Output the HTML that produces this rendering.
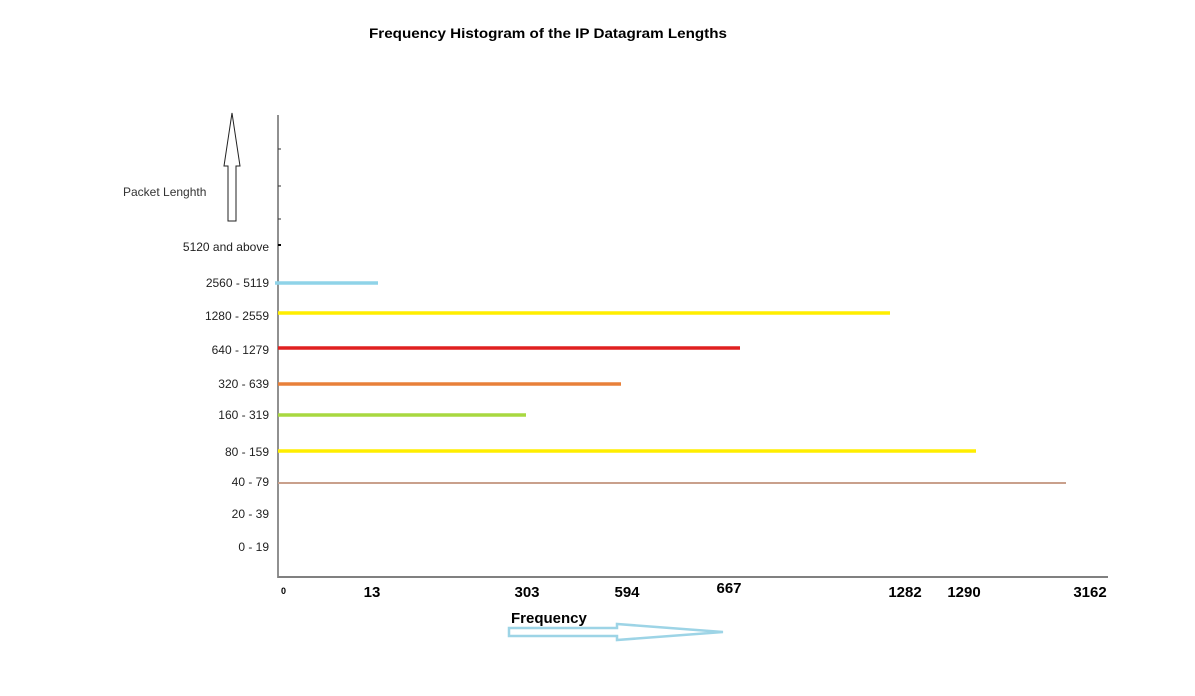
<!DOCTYPE html>
<html><head><meta charset="utf-8"><style>
html,body{margin:0;padding:0;background:#fff;}
svg{display:block;font-family:"Liberation Sans",Arial,sans-serif;}
</style></head><body>
<svg id="chart" width="1195" height="696" viewBox="0 0 1195 696">
<text x="369" y="38" font-size="13.5" font-weight="bold" textLength="358" lengthAdjust="spacingAndGlyphs">Frequency Histogram  of the IP Datagram Lengths</text>
<g id="yarrow">
<polygon points="232,113 240,166 236,166 236,221 228,221 228,166 224,166" fill="#fff" stroke="#222" stroke-width="1"/>
</g>
<text x="123" y="196" font-size="12" fill="#333">Packet Lenghth</text>
<line x1="278" y1="115" x2="278" y2="578" stroke="#555" stroke-width="1.3"/>
<line x1="278" y1="577" x2="1108" y2="577" stroke="#808080" stroke-width="2"/>
<line x1="278" y1="149" x2="281" y2="149" stroke="#333"/><line x1="278" y1="186" x2="281" y2="186" stroke="#333"/><line x1="278" y1="219" x2="281" y2="219" stroke="#333"/><line x1="278" y1="245" x2="281" y2="245" stroke="#000" stroke-width="2"/>
<g id="bars"></g>
<g id="ylabels"></g>
<g id="xlabels"></g>
<text x="281" y="594" font-size="9" font-weight="bold">0</text>
<text x="511" y="623" font-size="15" font-weight="bold">Frequency</text>
<polygon points="509,628 617,628 617,624 723,632 617,640 617,636 509,636" fill="none" stroke="#9dd4e6" stroke-width="2.5"/>
</svg>
<script>
const categories = ["5120 and above","2560 - 5119","1280 - 2559","640 - 1279","320 - 639","160 - 319","80 - 159","40 - 79","20 - 39","0 - 19"];
const frequencies = [0,13,1282,667,594,303,1290,3162,0,0];
const barColors = ["#000","#8fd3e8","#ffee00","#e02020","#e8803a","#a8d840","#ffee00","#c9a08c","#000","#000"];
const tickValues = [13,303,594,667,1282,1290,3162];

const NS="http://www.w3.org/2000/svg";
// non-linear hand-drawn axis: piecewise scale
const brkV=[0,13,303,594,667,1282,1290,3162], brkP=[278,378,526,621,740,890,976,1066];
function xScale(v){
  for(let i=1;i<brkV.length;i++){ if(v<=brkV[i]){const t=(v-brkV[i-1])/(brkV[i]-brkV[i-1]);return brkP[i-1]+t*(brkP[i]-brkP[i-1]);} }
  return brkP[brkP.length-1]+(v-brkV[brkV.length-1])*0.05;
}
const rowY=[246,283,313,348,384,415,451,483,514,547];
const labelY=[247,283,316,350,384,415,452,482,514,547];
function yScale(i){return rowY[i];}
const bars=document.getElementById('bars'), yl=document.getElementById('ylabels'), xl=document.getElementById('xlabels');
categories.forEach((c,i)=>{
  const y=yScale(i);
  const t=document.createElementNS(NS,'text');
  t.setAttribute('x',269);t.setAttribute('y',labelY[i]+4);t.setAttribute('text-anchor','end');t.setAttribute('font-size','12');t.setAttribute('fill','#222');
  t.textContent=c;
  
  
  yl.appendChild(t);
  if(frequencies[i]>0){
    const l=document.createElementNS(NS,'line');
    l.setAttribute('x1',i==1?275:278);l.setAttribute('x2',xScale(frequencies[i]));l.setAttribute('y1',y);l.setAttribute('y2',y);
    l.setAttribute('stroke',barColors[i]);l.setAttribute('stroke-width',i==7?2:3.5);
    
    
    bars.appendChild(l);
  }
});
const offs=[-6,1,6,-11,15,-12,24];
tickValues.forEach((v,i)=>{
  const t=document.createElementNS(NS,'text');
  t.setAttribute('x',xScale(v)+offs[i]);t.setAttribute('y',i==3?593:597);t.setAttribute('text-anchor','middle');
  t.setAttribute('font-size','15');t.setAttribute('font-weight','bold');
  t.textContent=v;
  
  
  xl.appendChild(t);
});
</script>
</body></html>
